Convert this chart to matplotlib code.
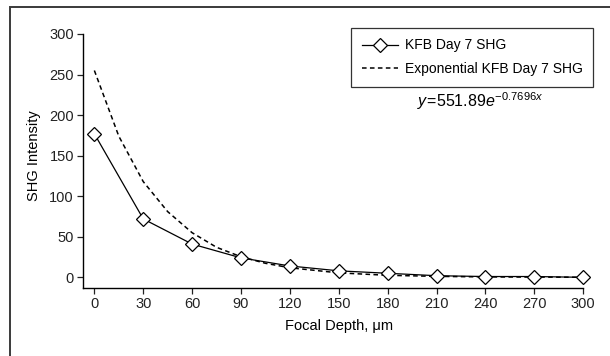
import matplotlib
matplotlib.use("Agg")
import matplotlib.pyplot as plt
from matplotlib import font_manager
from matplotlib.patches import Rectangle

# --- Data ---
depth = [0, 30, 60, 90, 120, 150, 180, 210, 240, 270, 300]
shg = [177, 72, 41, 24, 14, 8, 5, 2, 1, 1, 0]

# exponential trendline
fit_depth = [0, 15, 30, 45, 60, 75, 90, 105, 120, 150, 180, 210, 240, 270, 300]
fit_shg = [255, 174, 118, 81, 55, 37, 25.4, 17.3, 11.8, 5.5, 2.5, 1.2, 0.5, 0.3, 0.1]

x_ticks = [0, 30, 60, 90, 120, 150, 180, 210, 240, 270, 300]
y_ticks = [0, 50, 100, 150, 200, 250, 300]

# --- Fonts ---
names = {f.name for f in font_manager.fontManager.ttflist}
font = "Liberation Sans Narrow" if "Liberation Sans Narrow" in names else "Liberation Sans"
plt.rcParams["font.family"] = [font, "DejaVu Sans"]
plt.rcParams["mathtext.fontset"] = "custom"
plt.rcParams["mathtext.rm"] = font
plt.rcParams["mathtext.it"] = font + ":italic"

W, H = 610, 356
fig = plt.figure(figsize=(6.1, 3.56), dpi=100)
ax = fig.add_axes([0.136, 0.19, 0.82, 0.7145])

# outer frame (cropped at right and bottom)
fig.patches.append(Rectangle((10 / W, -0.1), 1.2, 1 - 7 / H + 0.1,
                             transform=fig.transFigure, fill=False,
                             edgecolor="#3a3a3a", linewidth=1.4, clip_on=False))

ax.plot(fit_depth, fit_shg, color="black", linestyle=(0, (3, 2.2)), linewidth=1.1,
        label="Exponential KFB Day 7 SHG", clip_on=False)
ax.plot(depth, shg, color="black", linewidth=0.9, marker="D", markersize=7.5,
        markerfacecolor="white", markeredgecolor="black", markeredgewidth=0.9,
        label="KFB Day 7 SHG", clip_on=False, zorder=3)

ax.set_xlim(-7, 300)
ax.set_ylim(-13.6, 300)
ax.set_xticks(x_ticks)
ax.set_yticks(y_ticks)
ax.spines["top"].set_visible(False)
ax.spines["right"].set_visible(False)
for s in ("left", "bottom"):
    ax.spines[s].set_linewidth(1.0)
ax.tick_params(axis="both", direction="out", length=4.5, width=0.9, labelsize=10.5,
               pad=2, colors="#222222")

ax.set_xlabel("Focal Depth, \u03bcm", fontsize=10.5)
ax.set_ylabel("SHG Intensity", fontsize=10.5)
# labels centred on the data range, not the axes box
ax.xaxis.set_label_coords(0.512, -0.12)
ax.yaxis.set_label_coords(-0.083, 0.522)

handles, labels = ax.get_legend_handles_labels()
leg = ax.legend(handles[::-1], labels[::-1], loc="upper right",
                bbox_to_anchor=(593 / W, 1 - 28 / H), bbox_transform=fig.transFigure,
                fontsize=10, frameon=True, fancybox=False, edgecolor="black",
                handlelength=2.6, handletextpad=0.5, borderpad=0.75,
                labelspacing=0.7, borderaxespad=0)
leg.get_frame().set_linewidth(0.9)

fig.text(480 / W, 1 - 101 / H, r"$y\!=\!551.89e^{-0.7696x}$", fontsize=11.5,
         ha="center", va="center")

fig.savefig("out.png", dpi=100)
